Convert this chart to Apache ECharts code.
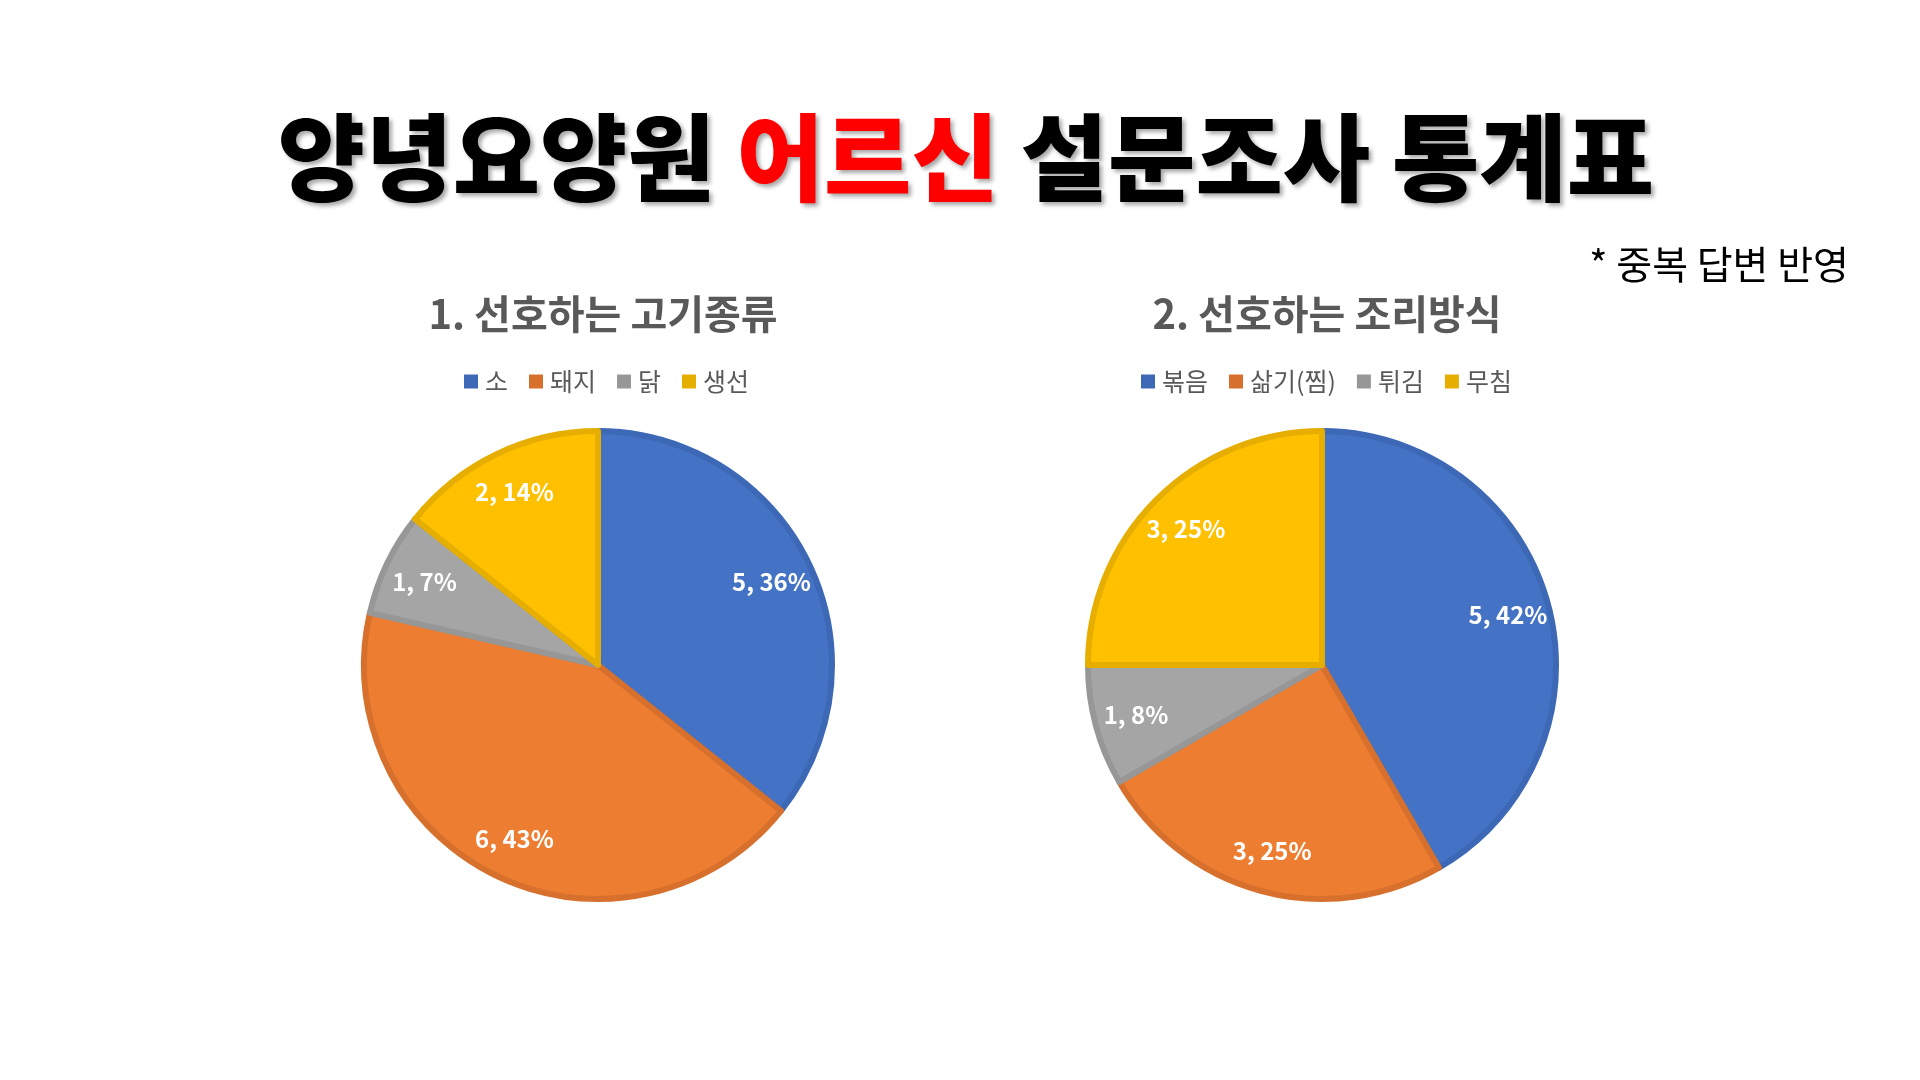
<!DOCTYPE html>
<html>
<head>
<meta charset="utf-8">
<script src="https://cdn.jsdelivr.net/npm/echarts@6/dist/echarts.min.js"></script>
<style>
  html, body { margin: 0; padding: 0; background: #fff; }
  #chart { width: 1920px; height: 1080px; }
</style>
</head>
<body>
<div id="chart"></div>
<script>
// 1. 선호하는 고기종류
var meatNames = ['소', '돼지', '닭', '생선'];
var meatValues = [5, 6, 1, 2];
// 2. 선호하는 조리방식
var cookNames = ['볶음', '삶기(찜)', '튀김', '무침'];
var cookValues = [5, 3, 1, 3];

var fills = ['#4472C4', '#ED7D31', '#A5A5A5', '#FFC000'];
var borders = ['#3C68B6', '#D6702C', '#979797', '#E6AE00'];

var FONT = 'Noto Sans CJK KR';
var R = 234;

function toData(names, values) {
  return names.map(function (n, i) {
    return {
      name: n,
      value: values[i],
      itemStyle: { color: fills[i], borderColor: borders[i] }
    };
  });
}

//파이 본체
function pieSeries(names, values, cx) {
  return {
    type: 'pie',
    center: [cx, 665],
    radius: [0, R],
    startAngle: 90,
    clockwise: true,
    percentPrecision: 0,
    itemStyle: { borderWidth: 6 },
    label: { show: false },
    labelLine: { show: false },
    emphasis: { disabled: true },
    data: toData(names, values)
  };
}

//라벨만 그리는 투명 파이 (라벨을 바깥쪽으로)
function labelSeries(names, values, cx) {
  return {
    type: 'pie',
    center: [cx, 665],
    radius: [R * 0.62, R],
    startAngle: 90,
    clockwise: true,
    percentPrecision: 0,
    silent: true,
    itemStyle: { color: 'transparent', borderWidth: 0 },
    label: {
      show: true,
      position: 'inside',
      formatter: '{c}, {d}%',
      color: '#fff',
      fontFamily: FONT,
      fontWeight: 'bold',
      fontSize: 24
    },
    labelLine: { show: false },
    emphasis: { disabled: true },
    data: names.map(function (n, i) { return { name: n, value: values[i] }; })
  };
}

function legendOf(names, cx) {
  return {
    data: names.map(function (n, i) {
      return { name: n, itemStyle: { color: borders[i] } };
    }),
    left: cx,
    top: 364,
    orient: 'horizontal',
    icon: 'rect',
    itemWidth: 14,
    itemHeight: 14,
    itemGap: 21,
    selectedMode: false,
    itemStyle: { borderWidth: 0 },
    textStyle: { color: '#595959', fontSize: 25, fontFamily: FONT, padding: [0, 0, 0, 2] }
  };
}

var chart = echarts.init(document.getElementById('chart'));
var option = {
  backgroundColor: '#fff',
  color: fills,
  title: [
    {
      text: '{a|양녕요양원 }{b|어르신}{a| 설문조사 통계표}',
      left: 961,
      textAlign: 'center',
      top: 105,
      textStyle: {
        rich: {
          a: {
            fontFamily: FONT, fontWeight: 900, fontSize: 95, color: '#000',
            textShadowColor: 'rgba(0,0,0,0.35)', textShadowBlur: 4,
            textShadowOffsetX: 3, textShadowOffsetY: 3
          },
          b: {
            fontFamily: FONT, fontWeight: 900, fontSize: 95, color: '#FF0000',
            textShadowColor: 'rgba(0,0,0,0.35)', textShadowBlur: 4,
            textShadowOffsetX: 3, textShadowOffsetY: 3
          }
        }
      }
    },
    {
      text: '* 중복 답변 반영',
      right: 66,
      top: 240,
      textStyle: { fontFamily: FONT, fontWeight: 'normal', fontSize: 39, color: '#000' }
    },
    {
      text: '1. 선호하는 고기종류',
      left: 598,
      textAlign: 'center',
      top: 289,
      textStyle: { fontFamily: FONT, fontWeight: 'bold', fontSize: 40, color: '#595959' }
    },
    {
      text: '2. 선호하는 조리방식',
      left: 1322,
      textAlign: 'center',
      top: 289,
      textStyle: { fontFamily: FONT, fontWeight: 'bold', fontSize: 40, color: '#595959' }
    }
  ],
  legend: [
    legendOf(meatNames, 459),
    legendOf(cookNames, 1136)
  ],
  series: [
    pieSeries(meatNames, meatValues, 598),
    pieSeries(cookNames, cookValues, 1322),
    labelSeries(meatNames, meatValues, 598),
    labelSeries(cookNames, cookValues, 1322)
  ]
};
chart.setOption(option);
</script>
</body>
</html>
